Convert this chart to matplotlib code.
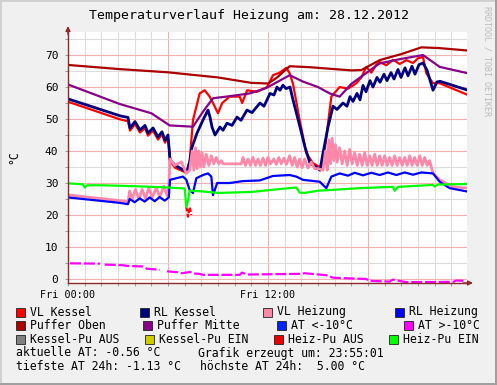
import matplotlib
matplotlib.use('Agg')
import matplotlib.pyplot as plt
from matplotlib.patches import Rectangle
from matplotlib.ticker import MultipleLocator, FuncFormatter
import numpy as np

MONO = 'DejaVu Sans Mono'
W, H = 497, 385

# --- data (time in hours since Fri 00:00, values in °C) ---
po_t = [0, 3.1, 6.0, 9.0, 11.0, 12.0, 12.5, 13.3, 14.5, 17.0, 17.6, 18.7, 20.0, 21.2, 22.2, 24]
po_v = [66.9, 65.6, 64.6, 63.0, 61.3, 61.1, 62.8, 66.5, 66.2, 65.2, 65.3, 68.4, 70.3, 72.4, 72.2, 71.4]

pm_t = [0, 3.1, 5.0, 6.1, 7.5, 8.1, 8.7, 9.5, 10.9, 11.9, 13.3, 14.1, 15.0, 15.7, 16.3, 17.0,
        18.7, 20.0, 21.3, 22.3, 24]
pm_v = [60.8, 54.7, 51.8, 48.0, 47.6, 52.3, 56.5, 57.0, 58.0, 59.7, 63.7, 61.7, 60.0, 58.0, 57.0, 61.0,
        67.4, 68.8, 70.0, 66.3, 64.3]

vk_t = [0, 3.12, 3.6, 3.72, 4.02, 4.32, 4.62, 4.8, 5.1, 5.4, 5.64, 5.82, 6.0, 6.12, 6.25, 6.42,
        7.1, 7.3, 7.5, 7.9, 8.2, 8.5, 8.7, 9.0, 9.25, 9.7, 10.3, 10.45, 10.75, 11.35, 11.95,
        12.3, 12.7, 13.1, 13.3, 13.5, 13.9, 14.3, 14.7, 15.1, 15.3, 15.5, 15.8, 16.3, 16.8,
        17.3, 17.6, 17.9, 18.2, 18.5, 18.7, 19.1, 19.5, 19.9, 20.3, 20.7, 21.0, 21.3, 21.5,
        21.9, 22.3, 24]
vk_v = [55.4, 49.9, 49.3, 46.4, 48.4, 45.8, 47.2, 44.8, 46.4, 43.6, 45.2, 42.6, 44.2, 38.0, 36.0, 34.8,
        33.2, 37.0, 49.7, 58.0, 59.0, 57.0, 55.0, 51.8, 55.0, 57.0, 57.0, 55.0, 59.0, 58.5, 60.0,
        63.7, 64.5, 66.0, 64.3, 61.0, 49.7, 39.3, 36.2, 35.0, 36.0, 44.4, 57.0, 60.0, 59.5,
        61.2, 63.0, 66.3, 64.5, 67.0, 67.8, 66.8, 68.5, 67.2, 68.4, 67.5, 69.0, 69.4, 64.3,
        61.2, 61.2, 57.5]

rk_t = [0, 3.12, 3.6, 3.72, 4.02, 4.32, 4.62, 4.8, 5.1, 5.4, 5.64, 5.82, 6.0, 6.12, 6.42, 7.14,
        7.32, 7.44, 7.74, 8.1, 8.4, 8.52, 8.64, 8.82, 9.12, 9.3, 9.54, 9.84, 10.14, 10.38, 10.74,
        11.04, 11.52, 11.76, 12.12, 12.36, 12.54, 12.72, 12.9, 13.08, 13.32, 13.5, 13.92, 14.22,
        14.52, 14.94, 15.12, 15.3, 15.6, 15.9, 16.14, 16.5, 16.74, 16.92, 17.1, 17.34, 17.52,
        17.7, 17.88, 18.12, 18.3, 18.54, 18.72, 18.96, 19.14, 19.38, 19.56, 19.8, 19.98, 20.22,
        20.4, 20.64, 20.82, 21.06, 21.3, 21.54, 21.9, 22.14, 22.32, 24]
rk_v = [56.3, 51.0, 50.5, 47.2, 49.2, 46.6, 48.0, 45.6, 47.2, 44.4, 46.0, 43.4, 45.0, 37.2, 35.6, 33.4,
        37.0, 41.2, 45.6, 49.7, 52.8, 50.6, 47.5, 45.0, 47.5, 46.5, 48.7, 48.0, 50.6, 49.6, 52.8,
        52.0, 55.0, 54.0, 58.0, 57.5, 60.0, 59.0, 60.6, 59.5, 60.0, 56.0, 47.5, 41.2,
        36.2, 34.7, 34.0, 39.3, 47.5, 54.0, 53.0, 55.0, 54.0, 57.0, 55.5, 58.0, 56.0,
        60.5, 58.5, 62.0, 60.0, 63.0, 61.5, 64.0, 62.0, 64.5, 62.5, 65.5, 63.0, 66.0,
        63.5, 66.5, 64.0, 67.0, 67.5, 65.3, 59.0, 61.6, 61.8, 59.0]

vh_t = [0, 3.1, 3.6, 3.7, 3.85, 4.05, 4.25, 4.45, 4.65, 4.85, 5.05, 5.3, 5.5, 5.75, 5.95, 6.05,
        6.12, 6.4, 6.8, 7.1, 7.3, 7.45, 7.55, 7.65, 7.75, 7.85, 7.95, 8.05, 8.15, 8.3, 8.45, 8.6,
        8.75, 8.9, 9.05, 9.2, 9.3, 10.4, 10.5, 10.65, 10.8, 10.95, 11.1, 11.25, 11.4, 11.55,
        11.7, 11.85, 12.0, 12.15, 12.35, 12.5, 12.65, 12.8, 12.95, 13.1, 13.3, 13.45, 13.6,
        13.75, 13.9, 14.05, 14.2, 14.4, 14.6, 14.8, 15.0, 15.3, 15.45, 15.55, 15.65, 15.75,
        15.85, 15.95, 16.05, 16.15, 16.3, 16.45, 16.6, 16.75, 16.9, 17.05, 17.2, 17.35, 17.5,
        17.65, 17.8, 17.95, 18.1, 18.25, 18.4, 18.55, 18.7, 18.85, 19.0, 19.15, 19.3, 19.45,
        19.6, 19.75, 19.9, 20.05, 20.2, 20.35, 20.5, 20.65, 20.8, 20.95, 21.1, 21.25, 21.4,
        21.55, 21.7, 21.9, 22.3, 23.1, 24]
vh_v = [26.3, 24.5, 24.2, 27.5, 25.0, 28.0, 25.0, 28.0, 25.2, 28.5, 25.5, 28.5, 25.6, 29.0, 26.0, 29.0,
        37.5, 35.5, 36.6, 33.0, 34.0, 40.0, 34.0, 41.0, 34.5, 40.0, 35.0, 39.5, 35.0, 39.0, 35.5, 38.5,
        36.0, 38.0, 36.0, 37.0, 36.0, 36.0, 38.0, 35.5, 37.5, 35.5, 38.0, 35.5, 37.5, 35.5,
        37.8, 35.5, 38.0, 36.0, 37.5, 35.8, 38.0, 36.0, 37.8, 35.8, 38.5, 35.5, 38.0,
        35.0, 37.5, 34.8, 37.5, 34.7, 36.5, 34.5, 34.5, 34.0, 40.0, 34.0, 43.5, 36.0,
        44.0, 37.0, 42.0, 36.5, 41.0, 36.0, 40.0, 35.5, 40.5, 36.0, 39.5, 35.5, 39.0,
        35.5, 39.5, 35.5, 38.5, 35.5, 39.0, 35.5, 38.5, 35.5, 38.5, 35.5, 38.0, 35.5,
        38.5, 35.5, 38.0, 35.5, 38.0, 35.5, 38.5, 35.5, 38.0, 35.5, 38.5, 35.5, 38.0,
        35.5, 37.0, 33.0, 31.0, 28.8, 28.4]

rh_t = [0, 3.1, 3.6, 3.7, 4.0, 4.3, 4.6, 4.9, 5.2, 5.5, 5.8, 6.05, 6.12, 6.5, 6.9, 7.1, 7.3, 7.5,
        7.7, 8.1, 8.4, 8.6, 8.7, 8.95, 9.7, 10.5, 11.5, 12.3, 13.3, 13.7, 14.1, 15.1, 15.5, 15.8,
        16.3, 16.8, 17.2, 17.7, 18.2, 18.7, 19.2, 19.7, 20.2, 20.7, 21.2, 21.9, 22.3, 22.9, 24]
rh_v = [25.5, 23.8, 23.4, 25.0, 24.0, 25.2, 24.2, 25.5, 24.3, 25.6, 24.5, 25.5, 31.0, 31.5, 32.0, 31.0,
        27.8, 26.9, 31.5, 32.5, 33.0, 32.0, 26.2, 30.0, 30.0, 30.6, 30.8, 32.2, 32.5, 32.0, 31.0,
        30.4, 28.4, 32.0, 33.0, 32.3, 33.2, 32.4, 33.2, 32.5, 33.3, 32.5, 33.3, 32.6, 33.3, 33.0,
        30.4, 28.4, 27.3]

at_t = [0.12, 1.92, 2.0, 2.2, 3.3, 3.54, 4.5, 4.74, 5.5, 5.7, 5.94, 6.6, 6.84, 7.32, 7.6, 7.9,
        8.1, 10.3, 10.44, 10.74, 13.9, 14.2, 15.5, 15.9, 17.9, 18.1, 19.3, 19.5, 20.3, 23.1,
        23.3, 23.8]
at_v = [4.9, 4.8, np.nan, 4.5, 4.3, 4.1, 3.9, 3.2, 2.9, np.nan, 2.4, 2.1, 1.8, 2.2, 1.7, 1.6,
        1.3, 1.3, 2.0, 1.4, 1.6, 1.8, 1.2, 0.4, 0.0, -0.6, -0.8, -0.2, -1.0, -0.9,
        -0.5, -0.56]

hpa_t = [7.1, 7.2, 7.3, 7.4]
hpa_v = [22.5, 19.5, 22.5, 20.0]

hpe_t = [0, 0.9, 1.0, 1.15, 2.0, 4.0, 6.0, 7.0, 7.1, 7.2, 7.3, 8.0, 9.0, 11.0, 12.5, 13.7, 13.9,
         14.2, 15.0, 16.0, 17.5, 19.5, 19.6, 19.8, 21.9, 22.0, 22.2, 24]
hpe_v = [29.9, 29.6, 28.6, 29.3, 29.3, 29.0, 28.6, 28.3, 22.5, 24.5, 27.6, 27.4, 26.9, 27.2, 28.0,
         28.6, 27.0, 26.9, 27.6, 27.9, 28.4, 28.8, 27.6, 28.8, 29.4, 28.9, 29.5, 29.7]

legend_rows = [
    [('VL Kessel', '#FF0000'), ('RL Kessel', '#000080'), ('VL Heizung', '#FF88AA'), ('RL Heizung', '#0000FF')],
    [('Puffer Oben', '#AA0000'), ('Puffer Mitte', '#880088'), ('AT <-10°C', '#0022FF'), ('AT >-10°C', '#FF00FF')],
    [('Kessel-Pu AUS', '#808080'), ('Kessel-Pu EIN', '#CCCC00'), ('Heiz-Pu AUS', '#EE0000'), ('Heiz-Pu EIN', '#00FF00')],
]
legend_x = [[16, 140, 263, 395], [16, 143, 277, 404], [16, 145, 274, 389]]
legend_y = [312, 325.5, 339.5]


def fx(x):
    return x / W


def fy(y):
    return 1 - y / H


fig = plt.figure(figsize=(W / 100, H / 100), dpi=100, facecolor='#F0F0F0')

# 3d-ish frame of the canvas
fig.patches.append(Rectangle((0, 0), 1, 1, transform=fig.transFigure, fill=False,
                             edgecolor='#D0D0D0', lw=2))
fig.patches.append(Rectangle((fx(494.5), 0), fx(3), 1, transform=fig.transFigure,
                             facecolor='#A0A0A0', edgecolor='none'))
fig.patches.append(Rectangle((0, 0), 1, 2.5 / H, transform=fig.transFigure,
                             facecolor='#A0A0A0', edgecolor='none'))

ax = fig.add_axes([fx(68), fy(283), 399 / W, 251 / H])
ax.set_facecolor('white')

lw = 1.6
ax.plot(vk_t, vk_v, color='#FF0000', lw=lw)
ax.plot(rk_t, rk_v, color='#000080', lw=2.0)
ax.plot(vh_t, vh_v, color='#FF88AA', lw=2.0)
ax.plot(rh_t, rh_v, color='#0000FF', lw=lw)
ax.plot(po_t, po_v, color='#AA0000', lw=lw)
ax.plot(pm_t, pm_v, color='#880088', lw=lw)
ax.plot(at_t, at_v, color='#FF00FF', lw=lw, dashes=(5, 1.2))
ax.plot(hpa_t, hpa_v, color='#FF0000', lw=lw, dashes=(2, 1))
ax.plot(hpe_t, hpe_v, color='#00FF00', lw=lw)

ax.set_xlim(0, 23.94)
ax.set_ylim(-1.25, 77.2)

xlabels = {0: 'Fri 00:00', 12: 'Fri 12:00'}
ax.xaxis.set_major_locator(MultipleLocator(6))
ax.xaxis.set_minor_locator(MultipleLocator(1))
ax.xaxis.set_major_formatter(FuncFormatter(lambda v, p: xlabels.get(int(round(v)), '')))
ax.yaxis.set_major_locator(MultipleLocator(10))
ax.yaxis.set_minor_locator(MultipleLocator(5))
ax.yaxis.set_major_formatter(FuncFormatter(lambda v, p: '%d' % v))

ax.grid(which='major', color='#F2B0B0', lw=0.8)
ax.grid(which='minor', color='#DCDCDC', lw=0.8)
ax.set_axisbelow(True)

ax.tick_params(which='both', length=2, width=0.7, color='#999999', direction='out')
ax.tick_params(axis='x', labelsize=7.3, pad=3)
ax.tick_params(axis='y', labelsize=8, pad=5)
for lab in ax.get_xticklabels() + ax.get_yticklabels():
    lab.set_family(MONO)

for s in ('top', 'right'):
    ax.spines[s].set_visible(False)
for s in ('left', 'bottom'):
    ax.spines[s].set_color('#8B2A2A')
    ax.spines[s].set_linewidth(1)

arrow = dict(arrowstyle='-|>', color='#8B2A2A', lw=1, mutation_scale=7, shrinkA=0, shrinkB=0)
ax.annotate('', xy=(0, 1 + 6 / 251), xytext=(0, 0.99), xycoords='axes fraction', arrowprops=arrow)
ax.annotate('', xy=(1 + 6 / 399, 0), xytext=(0.99, 0), xycoords='axes fraction', arrowprops=arrow)

# y unit label, placed directly in figure pixels
fig.text(fx(13.5), fy(157), '°C', family=MONO, fontsize=8.3, rotation=90,
         ha='center', va='center')

fig.text(fx(249), fy(16), 'Temperaturverlauf Heizung am: 28.12.2012', family=MONO,
         fontsize=9.5, ha='center', va='center')
fig.text(fx(487), fy(6), 'RRDTOOL / TOBI OETIKER', family=MONO, fontsize=6, color='#BBBBBB',
         rotation=-90, ha='center', va='top')

for row, xs, y in zip(legend_rows, legend_x, legend_y):
    for (name, col), x in zip(row, xs):
        fig.patches.append(Rectangle((fx(x), fy(y + 4.5)), 9 / W, 9 / H, transform=fig.transFigure,
                                     facecolor=col, edgecolor='#222222', lw=0.6))
        fig.text(fx(x + 14), fy(y), name, family=MONO, fontsize=8.3, ha='left', va='center')

fig.text(fx(16), fy(353), 'aktuelle AT: -0.56 °C', family=MONO, fontsize=8.3, va='center')
fig.text(fx(198), fy(353), 'Grafik erzeugt um: 23:55:01', family=MONO, fontsize=8.3, va='center')
fig.text(fx(16), fy(367), 'tiefste AT 24h: -1.13 °C', family=MONO, fontsize=8.3, va='center')
fig.text(fx(200), fy(367), 'höchste AT 24h:  5.00 °C', family=MONO, fontsize=8.3, va='center')

fig.savefig('out.png', dpi=100, facecolor=fig.get_facecolor())
